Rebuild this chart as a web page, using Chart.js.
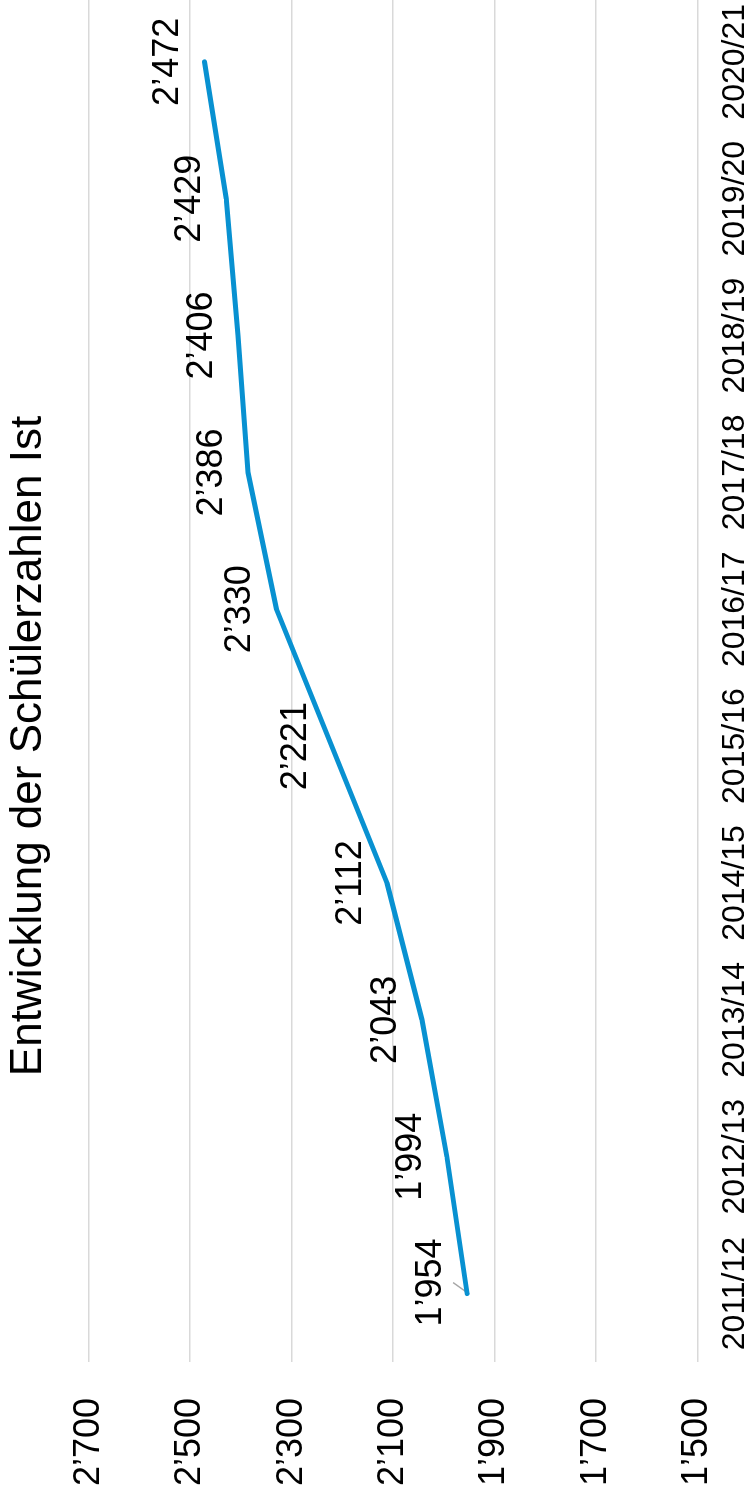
<!DOCTYPE html>
<html lang="de">
<head>
<meta charset="UTF-8">
<title>Entwicklung der Schülerzahlen Ist</title>
<script src="https://cdn.jsdelivr.net/npm/chart.js@4.4.1/dist/chart.umd.min.js"></script>
<style>
  html, body { margin: 0; padding: 0; background: #fff; overflow: hidden; }
  body { width: 755px; height: 1499px; position: relative; }
  /* chart is drawn landscape and turned a quarter to the left */
  #wrap {
    position: absolute; left: 0; top: 0;
    width: 1506px; height: 755px;
    transform-origin: 0 0;
    transform: translate(0, 1499px) rotate(-90deg);
  }
</style>
</head>
<body>
<div id="wrap"><canvas id="chart" width="1506" height="755"></canvas></div>
<script>
const chartTitle = 'Entwicklung der Schülerzahlen Ist';
const schoolYears = ['2011/12', '2012/13', '2013/14', '2014/15', '2015/16',
                     '2016/17', '2017/18', '2018/19', '2019/20', '2020/21'];
const pupils = [1954, 1994, 2043, 2112, 2221, 2330, 2386, 2406, 2429, 2472];
const yTicks = [1500, 1700, 1900, 2100, 2300, 2500, 2700];

const family = '"Liberation Sans", Arial, Helvetica, sans-serif';

function fmt(v) {
    return String(v).replace(/\B(?=(\d{3})+(?!\d))/g, '\u2019');
}

// value labels above the points (no datalabels plugin available)
const valueLabels = {
    id: 'valueLabels',
    beforeDatasetsDraw(chart) {
        // small leader line of the first label
        const pt = chart.getDatasetMeta(0).data[0];
        const ctx = chart.ctx;
        ctx.save();
        ctx.strokeStyle = '#a6a6a6';
        ctx.lineWidth = 1.5;
        ctx.beginPath();
        ctx.moveTo(pt.x + 1, pt.y);
        ctx.lineTo(pt.x + 11, pt.y - 14);
        ctx.stroke();
        ctx.restore();
    },
    afterDatasetsDraw(chart) {
        const ctx = chart.ctx;
        const meta = chart.getDatasetMeta(0);
        const values = chart.data.datasets[0].data;
        ctx.save();
        ctx.font = '36px ' + family;
        ctx.fillStyle = '#000';
        ctx.textAlign = 'center';
        ctx.textBaseline = 'alphabetic';
        meta.data.forEach((pt, i) => {
            const shift = i === 0 ? 11 : 0;
            ctx.fillText(fmt(values[i]), pt.x + shift, pt.y - 26);
        });
        ctx.restore();
    }
};

const ctx = document.getElementById('chart').getContext('2d');
const chart = new Chart(ctx, {
    type: 'line',
    data: {
        labels: schoolYears,
        datasets: [{
            label: chartTitle,
            data: pupils,
            borderColor: '#0891d1',
            borderWidth: 5,
            borderCapStyle: 'round',
            borderJoinStyle: 'round',
            pointRadius: 0,
            tension: 0,
            fill: false
        }]
    },
    options: {
        responsive: false,
        animation: false,
        devicePixelRatio: 1,
        layout: { padding: 0 },
        plugins: {
            legend: { display: false },
            tooltip: { enabled: false },
            title: {
                display: true,
                text: chartTitle,
                color: '#000',
                font: { family: family, size: 44, weight: 'normal', lineHeight: 1.2 },
                padding: { top: 2, bottom: 34 }
            }
        },
        scales: {
            x: {
                offset: true,
                grid: { display: false },
                border: { display: false },
                ticks: {
                    color: '#000',
                    font: { family: family, size: 32 },
                    maxRotation: 0,
                    autoSkip: false,
                    padding: 11
                },
                afterFit(axis) { axis.height = 50; }
            },
            y: {
                min: 1500,
                max: 2700,
                afterBuildTicks(axis) {
                    axis.ticks = yTicks.map(v => ({ value: v }));
                },
                grid: { color: '#d9d9d9', lineWidth: 1.5, drawTicks: false },
                border: { display: false },
                ticks: {
                    color: '#000',
                    font: { family: family, size: 36 },
                    padding: 36,
                    callback: v => fmt(v)
                },
                afterFit(axis) { axis.width = 137; }
            }
        }
    },
    plugins: [valueLabels]
});
</script>
</body>
</html>
